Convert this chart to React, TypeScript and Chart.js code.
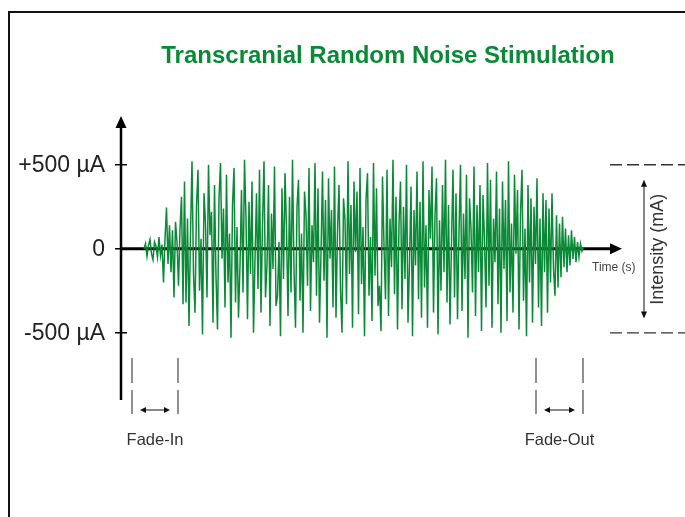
import { useEffect, useRef } from "react";
import { Chart, registerables } from "chart.js";

Chart.register(...registerables);

// ---------- data ----------
const chartTitle = "Transcranial Random Noise Stimulation";
const SAMPLE_STEP_S = 0.075; // seconds between samples

// stimulation current in µA (fade-in, plateau, fade-out)
const fadeInValues: number[] = [
  0, 30, -45, 20, 55, -30, -65, 40, 15, -50, 70, -40, 25, -200,
  60, 245, -90, 140, -140, 110, -290, 160, 40, -220, 120, 310, -330, 400,
];
const plateauValues: number[] = [
  -320, 180, -460, 90, 520, -150, -380, 260, 470, -250, 60, -510, 330, 150,
  -290, 500, 80, 220, -440, 380, -170, -480, 300, 510, -60, 240, -350, 440,
  -200, 90, -530, 260, 480, -320, 130, -410, -100, 350, -260, 530, 180, -420,
  280, -150, 400, -500, -60, 330, -240, 470, -380, 150, 520, -290, -90, 380,
  -460, 210, -120, 490, -340, -280, 40, -520, 360, -180, 450, 120, -400, 310,
  -260, 530, -130, -470, 250, 410, -310, 90, -500, 340, 200, -220, 480, -370,
  140, -80, 510, -280, 360, -440, -30, 460, -190, 290, -530, 420, -60, 230,
  -350, 490, -410, 110, 380, -240, -500, 300, 170, -330, 520, -150, 260, -470,
  400, -20, 340, -390, 480, -210, 130, -520, 290, 450, -280, 70, -430, 510,
  -160, 360, -340, -220, -490, 430, 20, -300, 470, -400, 180, -110, 530, -270,
  310, -480, 150, 400, -360, 250, -180, 500, -440, -90, 370, -520, 230, -100,
  460, -300, 280, -410, 520, -230, 140, -470, 350, 60, 490, -380, 200, 420,
  -510, 170, -250, 380, -140, 530, -320, 260, -450, 40, 470, -290, 330, -420,
  100, 500, -370, 210, -180, 440, -530, 300, 120, -260, 490, -400, 260, -140,
  380, -490, 320, 60, -350, 510, -220, 410, -470, 180, -80, 460, -330, 240,
  -500, 400, -120, 290, -430, 520, -260, 150, -380, 440, -30, 350, -480, 210,
  470, -310, 120, -520, 380, -200, 300, -440, 250, -90, 420, -350, 180, -460,
];
const fadeOutValues: number[] = [
  330, -140, 290, -380, 240, -200, 330, -120, -280, 200, -230, 150, -170, 190,
  -110, 120, -140, 80, -100, 110, -60, 70, -80, 40, -50, 30, -15, 10,
];
const noiseValues = [...fadeInValues, ...plateauValues, ...fadeOutValues];

const yTickValues = [500, 0, -500];
const yTickLabels = ["+500 µA", "0", "-500 µA"];
const xAxisLabel = "Time (s)";
const intensityLabel = "Intensity (mA)";
const intensityRange = [410, -415];
const fadeInBounds = [-0.6, 1.7];
const fadeOutBounds = [19.6, 21.95];
const fadeInLabel = "Fade-In";
const fadeOutLabel = "Fade-Out";

// ---------- scale range ----------
const X_MIN = -1.15;
const X_MAX = 23.85;
const X_ARROW_TIP = 23.9;
const DASH_START = 23.3;
const INTENSITY_X = 25;
const Y_MIN = -900;
const Y_MAX = 790;

const GREEN = "#0a8a36";

const diagramPlugin = {
  id: "diagram",
  beforeDatasetsDraw(chart: any) {
    const ctx: CanvasRenderingContext2D = chart.ctx;
    const xs = chart.scales.x;
    const ys = chart.scales.y;
    const area = chart.chartArea;
    const px = (v: number) => xs.getPixelForValue(v);
    const py = (v: number) => ys.getPixelForValue(v);
    const W = chart.width;
    const H = chart.height;
    ctx.save();

    // frame
    ctx.strokeStyle = "#111";
    ctx.lineWidth = 2;
    ctx.beginPath();
    ctx.moveTo(9, H + 5);
    ctx.lineTo(9, 12);
    ctx.lineTo(W + 5, 12);
    ctx.stroke();

    // title
    ctx.fillStyle = GREEN;
    ctx.font = "bold 24px 'Liberation Sans', Arial, sans-serif";
    ctx.textAlign = "center";
    ctx.textBaseline = "middle";
    ctx.fillText(chartTitle, 388, 56);

    const x0 = px(X_MIN);
    const y0 = py(0);

    // y axis
    ctx.strokeStyle = "#000";
    ctx.fillStyle = "#000";
    ctx.lineWidth = 2.5;
    ctx.beginPath();
    ctx.moveTo(x0, area.bottom);
    ctx.lineTo(x0, area.top + 11);
    ctx.stroke();
    ctx.beginPath();
    ctx.moveTo(x0, area.top);
    ctx.lineTo(x0 - 5.5, area.top + 12);
    ctx.lineTo(x0 + 5.5, area.top + 12);
    ctx.closePath();
    ctx.fill();

    // x axis
    const tip = px(X_ARROW_TIP);
    ctx.lineWidth = 3;
    ctx.beginPath();
    ctx.moveTo(x0, y0);
    ctx.lineTo(tip - 11, y0);
    ctx.stroke();
    ctx.beginPath();
    ctx.moveTo(tip, y0);
    ctx.lineTo(tip - 12, y0 - 5.5);
    ctx.lineTo(tip - 12, y0 + 5.5);
    ctx.closePath();
    ctx.fill();

    // y ticks + labels
    ctx.lineWidth = 1.5;
    ctx.font = "23px 'Liberation Sans', Arial, sans-serif";
    ctx.textAlign = "right";
    ctx.textBaseline = "middle";
    yTickValues.forEach((v, i) => {
      const y = py(v);
      ctx.strokeStyle = "#000";
      ctx.beginPath();
      ctx.moveTo(x0 - 6, y);
      ctx.lineTo(x0 + 6, y);
      ctx.stroke();
      ctx.fillStyle = "#222";
      ctx.fillText(yTickLabels[i], x0 - 16, y + 1);
    });

    // time label
    ctx.fillStyle = "#444";
    ctx.font = "12px 'Liberation Sans', Arial, sans-serif";
    ctx.textAlign = "left";
    ctx.fillText(xAxisLabel, 592, y0 + 19);

    // dashed reference lines at ±500
    ctx.strokeStyle = "#333";
    ctx.lineWidth = 1.3;
    ctx.setLineDash([12, 5]);
    [500, -500].forEach((v) => {
      ctx.beginPath();
      ctx.moveTo(px(DASH_START), py(v));
      ctx.lineTo(W, py(v));
      ctx.stroke();
    });
    ctx.setLineDash([]);

    // intensity double arrow
    const ix = px(INTENSITY_X);
    const iy1 = py(intensityRange[0]);
    const iy2 = py(intensityRange[1]);
    ctx.strokeStyle = "#111";
    ctx.fillStyle = "#111";
    ctx.lineWidth = 1;
    ctx.beginPath();
    ctx.moveTo(ix, iy1 + 5);
    ctx.lineTo(ix, iy2 - 5);
    ctx.stroke();
    ctx.beginPath();
    ctx.moveTo(ix, iy1);
    ctx.lineTo(ix - 3, iy1 + 7);
    ctx.lineTo(ix + 3, iy1 + 7);
    ctx.closePath();
    ctx.fill();
    ctx.beginPath();
    ctx.moveTo(ix, iy2);
    ctx.lineTo(ix - 3, iy2 - 7);
    ctx.lineTo(ix + 3, iy2 - 7);
    ctx.closePath();
    ctx.fill();

    ctx.save();
    ctx.translate(ix + 14, (iy1 + iy2) / 2);
    ctx.rotate(-Math.PI / 2);
    ctx.fillStyle = "#333";
    ctx.font = "18px 'Liberation Sans', Arial, sans-serif";
    ctx.textAlign = "center";
    ctx.textBaseline = "middle";
    ctx.fillText(intensityLabel, 0, 0);
    ctx.restore();

    // fade markers
    const drawFade = (bounds: number[], label: string) => {
      const a = px(bounds[0]);
      const b = px(bounds[1]);
      ctx.strokeStyle = "#555";
      ctx.lineWidth = 1.3;
      [a, b].forEach((x) => {
        ctx.beginPath();
        ctx.moveTo(x, 358);
        ctx.lineTo(x, 383);
        ctx.moveTo(x, 390);
        ctx.lineTo(x, 414);
        ctx.stroke();
      });
      const ay = 410;
      const l = a + 8;
      const r = b - 8;
      ctx.strokeStyle = "#111";
      ctx.fillStyle = "#111";
      ctx.lineWidth = 1;
      ctx.beginPath();
      ctx.moveTo(l + 4, ay);
      ctx.lineTo(r - 4, ay);
      ctx.stroke();
      ctx.beginPath();
      ctx.moveTo(l, ay);
      ctx.lineTo(l + 6, ay - 3);
      ctx.lineTo(l + 6, ay + 3);
      ctx.closePath();
      ctx.fill();
      ctx.beginPath();
      ctx.moveTo(r, ay);
      ctx.lineTo(r - 6, ay - 3);
      ctx.lineTo(r - 6, ay + 3);
      ctx.closePath();
      ctx.fill();
      ctx.fillStyle = "#333";
      ctx.font = "16.5px 'Liberation Sans', Arial, sans-serif";
      ctx.textAlign = "center";
      ctx.textBaseline = "middle";
      ctx.fillText(label, (a + b) / 2, 440);
    };
    drawFade(fadeInBounds, fadeInLabel);
    drawFade(fadeOutBounds, fadeOutLabel);

    ctx.restore();
  },
};

export default function App() {
  const ref = useRef<HTMLCanvasElement>(null);
  useEffect(() => {
    if (!ref.current) return;
    const chart = new Chart(ref.current, {
      type: "line",
      data: {
        datasets: [
          {
            data: noiseValues.map((v, i) => ({ x: i * SAMPLE_STEP_S, y: v })),
            borderColor: GREEN,
            borderWidth: 1.5,
            pointRadius: 0,
            tension: 0,
            fill: false,
          },
        ],
      },
      options: {
        animation: false,
        responsive: false,
        events: [],
        layout: { padding: { left: 121, right: 64, top: 116, bottom: 117 } },
        plugins: {
          legend: { display: false },
          title: { display: false },
          tooltip: { enabled: false },
        },
        scales: {
          x: { type: "linear", min: X_MIN, max: X_MAX, display: false },
          y: { type: "linear", min: Y_MIN, max: Y_MAX, display: false },
        },
      },
      plugins: [diagramPlugin],
    } as any);
    return () => chart.destroy();
  }, []);
  return (
    <div style={{ position: "fixed", left: 0, top: 0, width: 685, height: 517, background: "#fff" }}>
      <canvas ref={ref} width={685} height={517} style={{ display: "block" }} />
    </div>
  );
}
